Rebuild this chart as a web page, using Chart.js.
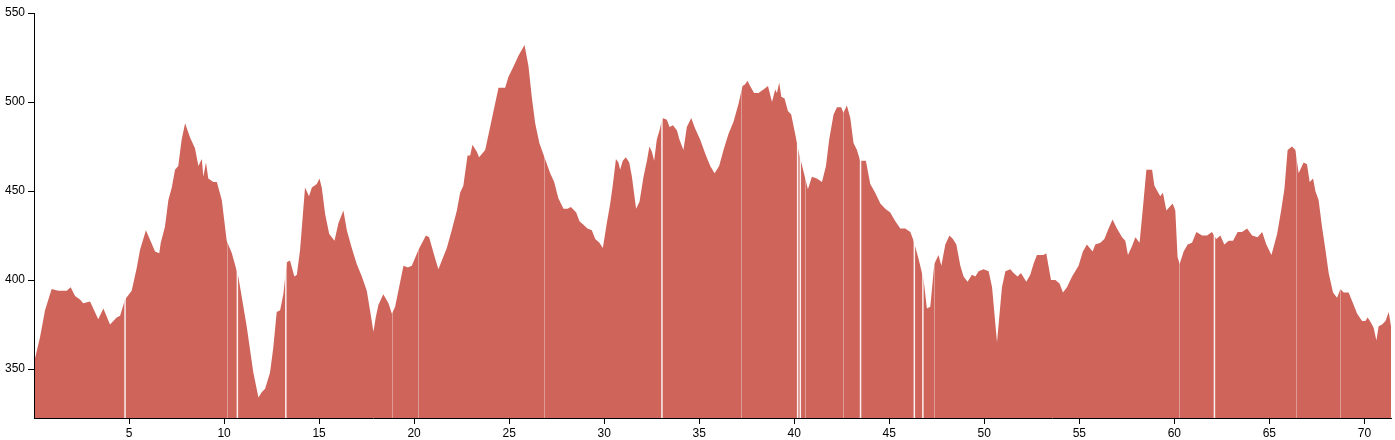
<!DOCTYPE html>
<html>
<head>
<meta charset="utf-8">
<title>Elevation profile</title>
<script src="https://cdn.jsdelivr.net/npm/chart.js@4"></script>
<style>
    html, body { margin: 0; padding: 0; background: #fff; }
    #wrap { width: 1395px; height: 440px; }
</style>
</head>
<body>
<div id="wrap"><canvas id="profileChart" width="1395" height="440"></canvas></div>
<script>
// distance along the route (km)
const distance = [
    0.05, 0.32, 0.58, 0.93, 1.28, 1.72, 1.93, 2.16, 2.42, 2.59, 2.95, 3.38, 3.65, 4.0, 4.35, 4.53, 4.79,
    5.14, 5.41, 5.58, 5.89, 6.37, 6.59, 6.67, 6.89, 7.07, 7.25, 7.42, 7.59, 7.77, 7.95, 8.21, 8.47, 8.65,
    8.83, 8.91, 9.05, 9.17, 9.44, 9.62, 9.88, 10.14, 10.41, 10.75, 11.19, 11.54, 11.81, 11.98, 12.16,
    12.42, 12.59, 12.77, 12.95, 13.12, 13.3, 13.47, 13.7, 13.83, 14.0, 14.26, 14.47, 14.62, 14.88, 15.02,
    15.14, 15.32, 15.53, 15.81, 16.02, 16.28, 16.46, 16.72, 16.98, 17.25, 17.51, 17.68, 17.86, 17.98,
    18.12, 18.38, 18.65, 18.83, 19.0, 19.21, 19.44, 19.67, 19.88, 20.23, 20.62, 20.79, 21.11, 21.28,
    21.46, 21.72, 21.98, 22.25, 22.42, 22.59, 22.81, 22.95, 23.07, 23.3, 23.42, 23.74, 24.0, 24.26,
    24.44, 24.79, 24.96, 25.23, 25.49, 25.81, 26.02, 26.19, 26.37, 26.59, 26.89, 27.16, 27.37, 27.59,
    27.86, 28.07, 28.25, 28.53, 28.7, 28.91, 29.12, 29.35, 29.53, 29.75, 29.93, 30.14, 30.32, 30.46,
    30.62, 30.75, 30.84, 30.98, 31.14, 31.32, 31.46, 31.68, 31.86, 32.07, 32.25, 32.38, 32.51, 32.63,
    32.77, 32.91, 33.07, 33.3, 33.44, 33.62, 33.83, 33.96, 34.17, 34.35, 34.58, 34.79, 35.05, 35.32,
    35.58, 35.81, 36.05, 36.28, 36.54, 36.81, 37.07, 37.28, 37.42, 37.54, 37.68, 37.89, 38.12, 38.38,
    38.62, 38.83, 39.0, 39.09, 39.21, 39.32, 39.49, 39.67, 39.84, 40.05, 40.26, 40.49, 40.72, 40.93,
    41.19, 41.46, 41.67, 41.84, 42.07, 42.25, 42.47, 42.59, 42.77, 42.95, 43.12, 43.3, 43.47, 43.77,
    44.0, 44.26, 44.53, 44.79, 45.05, 45.32, 45.58, 45.84, 46.11, 46.28, 46.54, 46.81, 46.98, 47.16,
    47.37, 47.59, 47.74, 47.95, 48.17, 48.35, 48.53, 48.74, 48.91, 49.12, 49.35, 49.53, 49.7, 49.96,
    50.23, 50.41, 50.67, 50.93, 51.11, 51.37, 51.54, 51.75, 51.93, 52.21, 52.42, 52.59, 52.77, 53.12,
    53.26, 53.51, 53.74, 53.96, 54.14, 54.35, 54.62, 54.96, 55.19, 55.4, 55.7, 55.84, 56.11, 56.32,
    56.54, 56.75, 56.98, 57.25, 57.42, 57.56, 57.77, 57.95, 58.17, 58.35, 58.53, 58.68, 58.83, 58.95,
    59.26, 59.4, 59.58, 59.91, 60.05, 60.17, 60.28, 60.49, 60.7, 60.93, 61.16, 61.46, 61.72, 61.98,
    62.21, 62.42, 62.63, 62.86, 63.09, 63.33, 63.56, 63.83, 64.09, 64.38, 64.62, 64.84, 65.11, 65.41,
    65.62, 65.79, 65.96, 66.19, 66.37, 66.54, 66.8, 66.98, 67.12, 67.3, 67.42, 67.59, 67.77, 67.95,
    68.12, 68.35, 68.56, 68.74, 68.91, 69.17, 69.4, 69.62, 69.88, 70.05, 70.17, 70.35, 70.49, 70.63,
    70.75, 70.93, 71.11, 71.28, 71.4
];

// elevation (m)
const elevation = [
    356, 368, 383, 395, 394, 394, 396, 391, 389, 387, 388, 378, 384, 375, 379, 380, 389,
    394, 407, 417, 428, 416, 415, 421, 430, 445, 452, 462, 464, 479, 488, 480, 474, 464,
    468, 458, 466, 457, 455, 455, 445, 422, 415, 402, 374, 348, 334, 337, 339,
    348, 362, 382, 383, 392, 410, 411, 402, 403, 417, 452, 447, 452, 454, 457,
    452, 437, 426, 422, 432, 439, 428, 418, 409, 402, 394, 383, 371, 379,
    386, 392, 387, 381, 385, 396, 408, 407, 408, 417, 425, 424, 412, 406,
    411, 418, 428, 439, 449, 453, 470, 470, 476, 472, 469, 473, 486, 499,
    508, 508, 514, 520, 526, 532, 520, 503, 488, 477, 468, 460, 455, 446,
    440, 440, 441, 438, 433, 431, 429, 428, 423, 421, 418, 432, 443, 454,
    468, 466, 462, 467, 469, 466, 458, 440, 444, 458, 467, 475, 472, 467,
    479, 484, 491, 490, 486, 487, 484, 479, 473, 486, 491, 485, 479, 471,
    464, 460, 464, 473, 482, 489, 499, 509, 510, 512, 509, 505, 505, 507,
    509, 500, 507, 505, 511, 503, 502, 495, 493, 482, 471, 461, 451, 458,
    457, 455, 464, 479, 493, 497, 497, 494, 498, 491, 477, 473, 467, 467,
    454, 449, 443, 440, 438, 433, 429, 429, 427, 422, 412, 400, 384, 385,
    409, 414, 408, 420, 425, 423, 420, 408, 402, 399, 403, 402, 405, 406,
    405, 396, 365, 396, 405, 406, 404, 402, 404, 399, 403, 409, 414, 414,
    415, 400, 400, 398, 393, 396, 402, 408, 416, 420, 416, 420, 421, 423,
    429, 434, 429, 424, 422, 414, 419, 424, 421, 441, 462, 462, 462, 453,
    447, 449, 439, 443, 439, 413, 409, 416, 420, 421, 427, 425, 425, 427,
    423, 425, 420, 422, 422, 427, 427, 429, 425, 424, 427, 420, 414, 426,
    439, 451, 473, 475, 473, 460, 466, 465, 455, 457, 450, 445, 430, 417,
    404, 393, 390, 395, 393, 393, 387, 381, 377, 377, 379, 376, 373, 366,
    374, 375, 377, 382, 374
];

// km positions where the filled profile is split (clear and faint seams)
const breaks = [4.79, 10.7, 13.25, 33.04, 40.18, 40.32, 43.49, 46.32, 46.77, 62.11];
const seams = [10.14, 18.86, 20.23, 26.81, 37.19, 40.58, 42.59, 47.37, 60.23, 66.41, 68.74];

const xTicks = [5, 10, 15, 20, 25, 30, 35, 40, 45, 50, 55, 60, 65, 70];
const yTicks = [350, 400, 450, 500, 550];

const points = distance.map((d, i) => ({ x: d, y: elevation[i] }));

const seamPlugin = {
    id: "seams",
    afterDatasetsDraw(chart) {
        const ctx = chart.ctx;
        const xs = chart.scales.x;
        const area = chart.chartArea;
        ctx.save();
        ctx.beginPath();
        ctx.rect(area.left, area.top, area.right - area.left, area.bottom - area.top);
        ctx.clip();
        ctx.strokeStyle = "rgba(255,255,255,0.35)";
        ctx.lineWidth = 1;
        seams.forEach(km => {
            const px = Math.round(xs.getPixelForValue(km)) + 0.5;
            ctx.beginPath();
            ctx.moveTo(px, area.top);
            ctx.lineTo(px, area.bottom);
            ctx.stroke();
        });
        ctx.strokeStyle = "rgba(255,255,255,0.9)";
        ctx.lineWidth = 1.5;
        breaks.forEach(km => {
            const px = xs.getPixelForValue(km);
            ctx.beginPath();
            ctx.moveTo(px, area.top);
            ctx.lineTo(px, area.bottom);
            ctx.stroke();
        });
        ctx.restore();
    }
};

const ctx = document.getElementById("profileChart").getContext("2d");
new Chart(ctx, {
    type: "line",
    data: {
        datasets: [{
            data: points,
            backgroundColor: "rgb(206,100,90)",
            borderColor: "rgb(206,100,90)",
            borderWidth: 0,
            pointRadius: 0,
            tension: 0,
            fill: "start"
        }]
    },
    options: {
        responsive: false,
        animation: false,
        layout: { padding: { top: 13, right: 4, left: 0, bottom: 0 } },
        plugins: {
            legend: { display: false },
            tooltip: { enabled: false }
        },
        scales: {
            x: {
                type: "linear",
                min: 0,
                max: 71.4,
                afterBuildTicks: (scale) => { scale.ticks = xTicks.map(v => ({ value: v })); },
                afterFit: (scale) => { scale.height = 22; },
                border: { display: true, color: "#000", width: 1 },
                grid: { drawOnChartArea: false, drawTicks: true, tickLength: 6, color: "#000" },
                ticks: {
                    color: "#000",
                    padding: 2,
                    maxRotation: 0,
                    autoSkip: false,
                    font: { family: "'Liberation Sans', Arial, sans-serif", size: 12 }
                }
            },
            y: {
                min: 322.5,
                max: 550,
                afterBuildTicks: (scale) => { scale.ticks = yTicks.map(v => ({ value: v })); },
                afterFit: (scale) => { scale.width = 34; },
                border: { display: true, color: "#000", width: 1 },
                grid: { drawOnChartArea: false, drawTicks: true, tickLength: 6, color: "#000" },
                ticks: {
                    color: "#000",
                    padding: 3,
                    autoSkip: false,
                    font: { family: "'Liberation Sans', Arial, sans-serif", size: 12 }
                }
            }
        }
    },
    plugins: [seamPlugin]
});
</script>
</body>
</html>
